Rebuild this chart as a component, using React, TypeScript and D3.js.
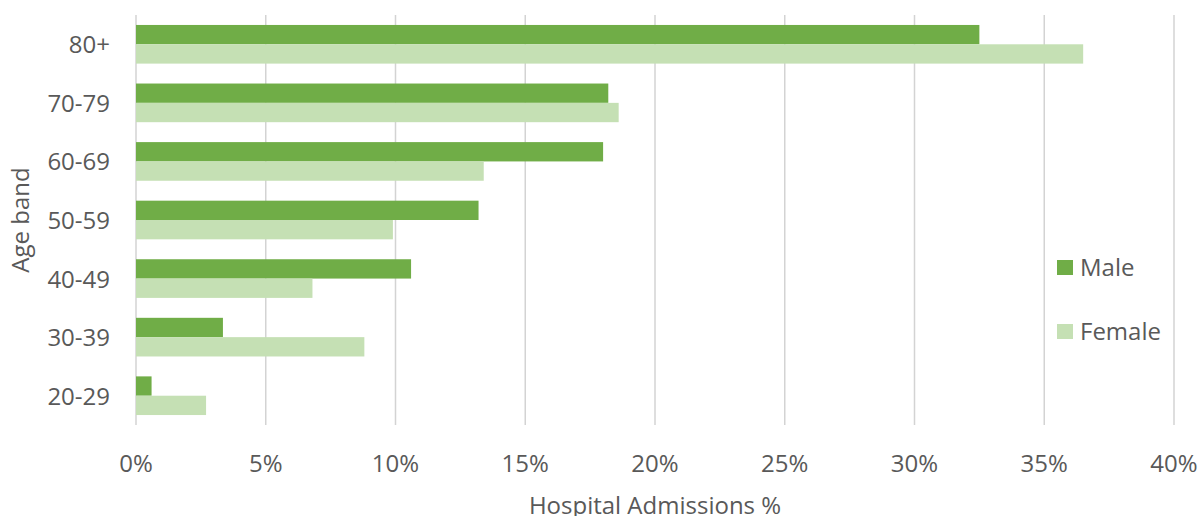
import React from "react";
import * as d3 from "d3";

const categories = ["80+", "70-79", "60-69", "50-59", "40-49", "30-39", "20-29"];
const maleValues = [32.5, 18.2, 18.0, 13.2, 10.6, 3.35, 0.6];
const femaleValues = [36.5, 18.6, 13.4, 9.9, 6.8, 8.8, 2.7];
const xTicks = [0, 5, 10, 15, 20, 25, 30, 35, 40];
const seriesNames = ["Male", "Female"];
const seriesColors = ["#70AD47", "#C5E0B4"];

export default function App() {
  const W = 1199, H = 516;
  const left = 136, right = 1174, top = 15, bottom = 425;
  const x = d3.scaleLinear().domain([0, 40]).range([left, right]);
  const y = d3.scaleBand().domain(categories).range([top, bottom]).paddingInner(0.34).paddingOuter(0.17);
  const inner = d3.scaleBand().domain(seriesNames).range([0, y.bandwidth()]);
  const font = "'Open Sans', 'Noto Sans', sans-serif";
  const textColor = "#595959";
  const fs = 24;
  return (
    <svg width={W} height={H} style={{ position: "absolute", left: 0, top: 0, background: "#fff" }} fontFamily={font}>
      {xTicks.map((t) => (
        <g key={t}>
          <line x1={x(t)} x2={x(t)} y1={top} y2={bottom} stroke="#d3d3d3" strokeWidth={1.5} />
          <text x={x(t)} y={472} textAnchor="middle" fontSize={fs} fill={textColor}>{t}%</text>
        </g>
      ))}
      {categories.map((c, i) => (
        <g key={c}>
          <rect x={x(0)} y={y(c)! + inner("Male")!} width={x(maleValues[i]) - x(0)} height={inner.bandwidth()} fill={seriesColors[0]} />
          <rect x={x(0)} y={y(c)! + inner("Female")!} width={x(femaleValues[i]) - x(0)} height={inner.bandwidth()} fill={seriesColors[1]} />
          <text x={110} y={y(c)! + y.bandwidth() / 2 + 9} textAnchor="end" fontSize={fs} fill={textColor}>{c}</text>
        </g>
      ))}
      <text x={655} y={514} textAnchor="middle" fontSize={fs} fill={textColor}>Hospital Admissions %</text>
      <text transform={`translate(29, 220) rotate(-90)`} textAnchor="middle" fontSize={fs} fill={textColor}>Age band</text>
      {seriesNames.map((s, i) => (
        <g key={s}>
          <rect x={1057} y={260 + i * 64} width={16} height={15} fill={seriesColors[i]} />
          <text x={1080} y={276 + i * 64} fontSize={fs} fill={textColor}>{s}</text>
        </g>
      ))}
    </svg>
  );
}
